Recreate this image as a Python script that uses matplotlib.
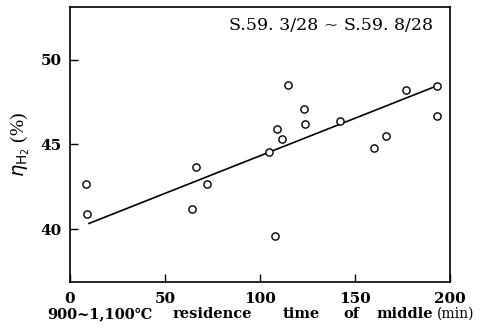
import matplotlib
matplotlib.use("Agg")
import matplotlib.pyplot as plt

# data
time_min = [8.4, 9.0, 64.0, 66.3, 72.3, 104.7, 107.7, 108.8, 111.8, 114.6,
            123.2, 123.7, 142.1, 160.2, 166.1, 176.7, 193.2, 193.2]
eta_h2 = [42.7, 40.9, 41.2, 43.7, 42.7, 44.55, 39.6, 45.9, 45.3, 48.5,
          47.1, 46.2, 46.4, 44.8, 45.5, 48.2, 48.45, 46.7]
fit_x = [10.0, 193.0]
fit_y = [40.35, 48.45]
xticks = [0, 50, 100, 150, 200]
yticks = [40, 45, 50]
period_text = "S.59. 3/28 ~ S.59. 8/28"

W, H = 497, 330
fig = plt.figure(figsize=(W / 100, H / 100), dpi=100)
ax = fig.add_axes([70 / W, 1 - 282 / H, 380 / W, 275 / H])

ax.plot(fit_x, fit_y, color="black", lw=1.2, zorder=2)
ax.plot(time_min, eta_h2, linestyle="none", marker="o", markersize=5.2,
        markerfacecolor="white", markeredgecolor="black", markeredgewidth=1.0, zorder=3)

ax.set_xlim(0, 200)
ax.set_ylim(36.9, 53.1)
ax.set_xticks(xticks)
ax.set_yticks(yticks)
wide = ["DejaVu Serif"]
ax.set_xticklabels([str(v) for v in xticks], family=wide, fontweight="bold", fontsize=11)
ax.set_yticklabels([str(v) for v in yticks], family=wide, fontweight="bold", fontsize=11)
ax.tick_params(axis="x", direction="in", length=6, width=1.0, pad=7)
ax.tick_params(axis="y", direction="in", length=6, width=1.0, pad=6)
for s in ax.spines.values():
    s.set_linewidth(1.2)

ax.text(0.955, 0.932, period_text, transform=ax.transAxes, ha="right", va="center",
        family=wide, fontsize=12.5)

ax.set_ylabel(r"$\eta_{\mathrm{H_2}}$ (%)", family=["Liberation Serif", "DejaVu Serif"],
              fontsize=14, labelpad=6)

# x-axis label, words spaced as in the reference
words = [("900~1,100℃", 47, "bold", 10.5), ("residence", 173, "bold", 10.5),
         ("time", 283, "bold", 10.5), ("of", 343, "bold", 10.5),
         ("middle", 376, "bold", 10.5), ("(min)", 437, "normal", 10)]
for w, xp, wt, fs in words:
    fig.text(xp / W, 1 - 314 / H, w, ha="left", va="center",
             family=wide, fontweight=wt, fontsize=fs)

fig.savefig("out.png", dpi=100)
